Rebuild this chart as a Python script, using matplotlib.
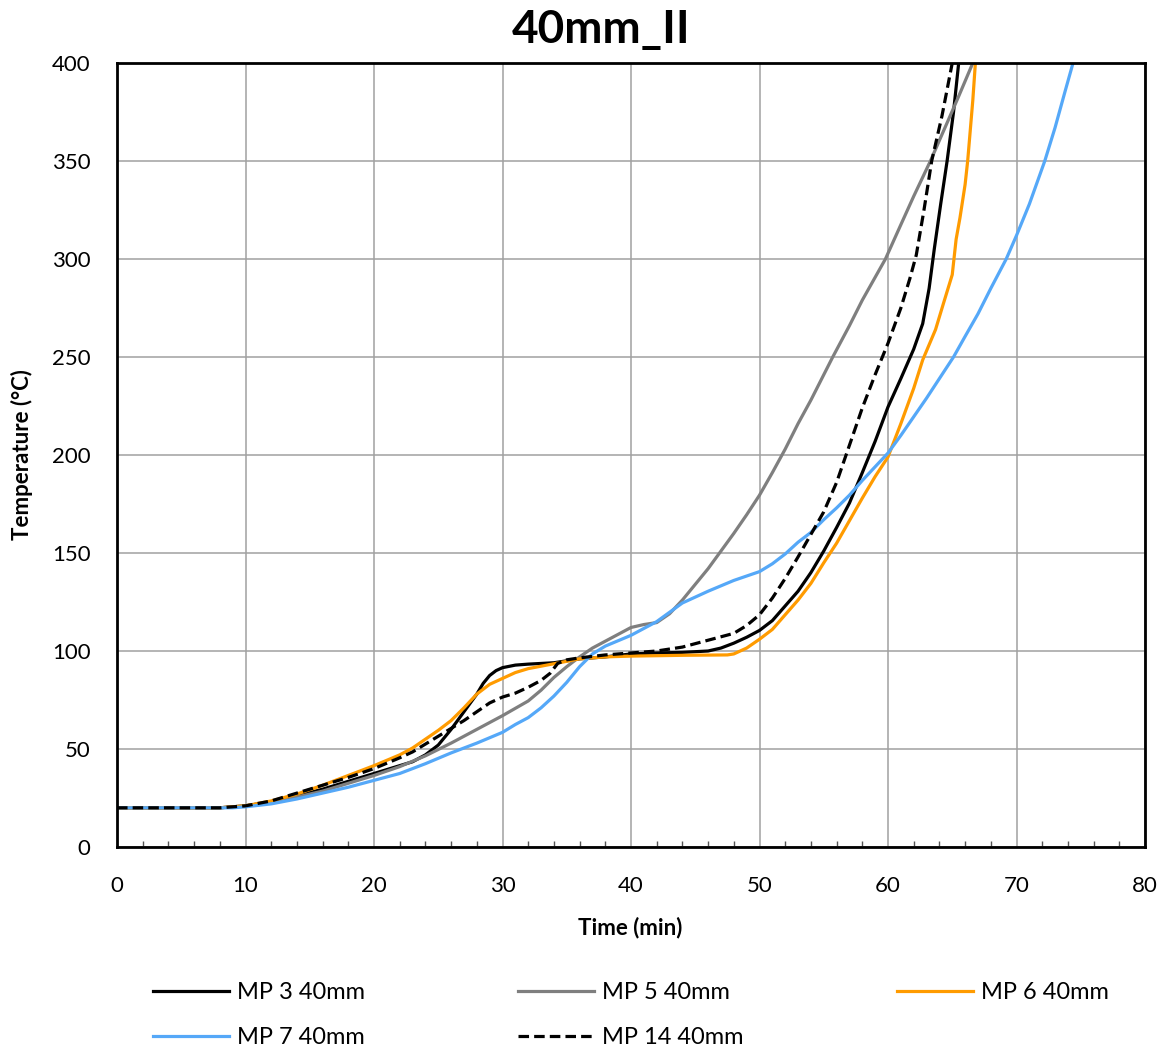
import numpy as np
from matplotlib import pyplot as plt
from matplotlib.ticker import MultipleLocator

plt.rcParams['font.family'] = ['Lato', 'DejaVu Sans']

# measuring points, time in min / temperature in °C
t_mp3 = [0, 8, 10, 12, 14, 16, 18, 20, 22, 23, 24, 25, 26, 27, 28, 28.5, 29, 29.5, 30, 31, 32,
         34, 36, 38, 40, 42, 44, 46, 47, 48, 49, 50, 51, 52, 53, 54, 55, 56, 57, 58, 59, 60,
         61, 62, 62.7, 63.2, 63.6, 64.1, 64.6, 65.1, 65.5]
T_mp3 = [20, 20, 21, 23, 26, 29.5, 33.5, 37.5, 41.5, 43.5, 47, 52, 60, 69, 78, 83.5, 87.5, 90,
         91.5, 92.8, 93.3, 94, 96, 97, 98.5, 99, 99.3, 100, 101.5, 104, 107, 110.5, 115.5, 123,
         130.5, 140, 151, 163, 175.5, 191, 207, 224.5, 239, 254, 267, 285, 305, 328, 350, 375,
         400]

t_mp5 = [0, 8, 10, 12, 14, 16, 18, 20, 22, 24, 26, 28, 30, 32, 33, 34, 35, 36, 37, 38, 39, 40,
         41, 42, 43, 44, 45, 46, 47, 48, 49, 50, 51, 52, 53, 54, 55.7, 57, 58, 59.8, 61, 62,
         63.3, 64.5, 65.5, 66.6]
T_mp5 = [20, 20, 21, 23, 25.5, 28.5, 32.5, 36.5, 41, 46.5, 53, 60, 67, 74.5, 80, 86.5, 92, 97,
         101.5, 105, 108.5, 112, 113.5, 114.5, 119, 126, 134, 142, 151, 160, 169.5, 179.5, 191,
         203, 216, 228, 250, 266, 279, 300, 317.5, 332, 350, 368, 383, 400]

t_mp6 = [0, 8, 10, 12, 14, 16, 18, 20, 22, 23, 24, 25, 26, 27, 28, 29, 30, 31, 32, 34, 36, 38,
         40, 44, 47.5, 48, 49, 50, 51, 52, 53, 54, 55, 56, 57, 58, 59, 60, 61, 62, 62.7, 63.7,
         64.3, 65, 65.3, 65.6, 66, 66.2, 66.6, 66.8]
T_mp6 = [20, 20, 21, 23.5, 27, 31.5, 36.5, 41.5, 47, 50.5, 55, 59.5, 64.5, 71, 78, 83, 86, 89,
         91, 93.5, 96, 97, 97.4, 97.8, 98, 98.5, 101.5, 106, 111, 118.5, 126, 134.5, 145, 155,
         166.5, 178, 189, 199, 216, 234, 248.5, 264, 277, 292, 310, 321, 338, 350, 381, 400]

t_mp7 = [0, 9, 10, 12, 14, 16, 18, 20, 22, 24, 26, 28, 30, 31, 32, 33, 34, 35, 36, 37, 38, 40,
         42, 44, 46, 48, 50, 51, 52, 53, 54, 55, 56, 57, 58, 59, 60, 61, 62, 63, 64, 65.1, 66,
         67, 68, 69.2, 70, 71, 72.2, 73, 73.8, 74.4]
T_mp7 = [20, 20, 20.5, 22, 24.5, 27.5, 30.5, 34, 37.5, 42.5, 48, 53, 58.5, 62.5, 66, 71, 77, 84,
         92, 98.5, 102.5, 108, 115, 124.5, 130.5, 136, 140.5, 144.5, 149.5, 155.5, 160.5, 167,
         173, 179.5, 187, 194, 201, 210, 219.5, 229, 239, 250, 260.5, 272, 285, 300, 312, 328,
         350, 367, 386, 400]

t_mp14 = [0, 8, 10, 12, 14, 16, 18, 20, 22, 23, 24, 25, 26, 27, 28, 29, 30, 31, 32, 33, 33.7,
          34.3, 35, 36, 38, 40, 42, 44, 46, 48, 49, 50, 51, 52, 53, 54, 55, 56, 57, 58, 59, 60,
          61, 61.7, 62.2, 62.8, 63.4, 64.2, 65]
T_mp14 = [20, 20, 21, 23.5, 27.5, 31.5, 35.5, 40, 45.5, 48.5, 52.5, 56.5, 60.5, 64.5, 69, 73.5,
          76.5, 78.5, 81.5, 85, 88.6, 93.7, 95.5, 96.5, 98, 99, 100, 102, 105.5, 109, 113, 118.5,
          127, 137, 148, 159.5, 171, 186, 205, 224, 241, 257, 275, 290, 302, 325, 350, 373, 400]

series = [
    ('MP 3 40mm', t_mp3, T_mp3, '#000000', '-'),
    ('MP 5 40mm', t_mp5, T_mp5, '#7f7f7f', '-'),
    ('MP 6 40mm', t_mp6, T_mp6, '#ff9b00', '-'),
    ('MP 7 40mm', t_mp7, T_mp7, '#55a8f8', '-'),
    ('MP 14 40mm', t_mp14, T_mp14, '#000000', '--'),
]

fig = plt.figure(figsize=(11.65, 10.5), dpi=100)
ax = fig.add_axes([117/1165, 1-847/1050, 1028/1165, 784/1050])

lines = {}
for name, t, T, col, ls in series:
    ln, = ax.plot(t, T, color=col, lw=2.3, ls=ls, label=name)
    if ls == '--':
        ln.set_dashes((3.3, 1.6))
    lines[name] = ln

ax.set_xlim(0, 80)
ax.set_ylim(0, 400)
ax.xaxis.set_major_locator(MultipleLocator(10))
ax.xaxis.set_minor_locator(MultipleLocator(2))
ax.yaxis.set_major_locator(MultipleLocator(50))
ax.grid(True, color='#a0a0a0', lw=1.1)
ax.set_axisbelow(True)

for sp in ax.spines.values():
    sp.set_color('black')
    sp.set_linewidth(2)

ax.tick_params(axis='both', which='major', length=0, labelsize=16)
ax.tick_params(axis='x', which='major', pad=21)
ax.tick_params(axis='y', which='major', pad=19)
ax.tick_params(axis='x', which='minor', direction='in', length=4.5, width=1, color='#555555')
ax.tick_params(axis='y', which='minor', length=0)

fig.text(601/1165, 1-43/1050, '40mm_II', ha='center', va='baseline', fontsize=33, weight='bold')
fig.text(630/1165, 1-928/1050, 'Time (min)', ha='center', va='center', fontsize=16, weight='bold')
fig.text(22/1165, 1-455/1050, 'Temperature (°C)', ha='center', va='center', fontsize=16,
         weight='bold', rotation=90)

# legend is filled column by column
order = ['MP 3 40mm', 'MP 7 40mm', 'MP 5 40mm', 'MP 14 40mm', 'MP 6 40mm']
fig.legend([lines[n] for n in order], order, loc='center', bbox_to_anchor=(631/1165, 1-1015/1050),
           ncol=3, frameon=False, fontsize=17, handlelength=3.2, handletextpad=0.35,
           columnspacing=6.5, labelspacing=1.0)

fig.savefig('out.png', dpi=100)
